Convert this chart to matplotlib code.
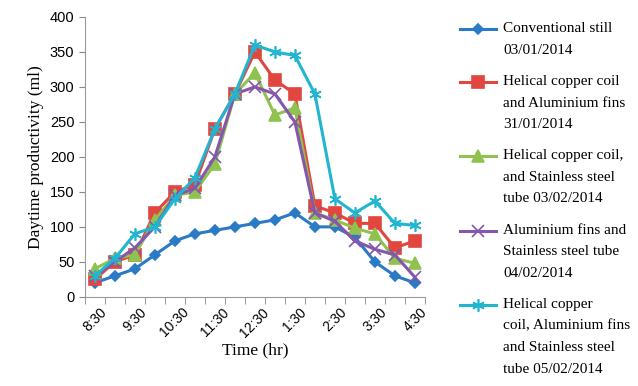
import numpy as np
import matplotlib
matplotlib.use('Agg')
import matplotlib.pyplot as plt
from matplotlib.legend_handler import HandlerLine2D

# Data (ml), every half hour from 8:30 to 4:30
times = ['8:30', '9:00', '9:30', '10:00', '10:30', '11:00', '11:30', '12:00', '12:30',
         '1:00', '1:30', '2:00', '2:30', '3:00', '3:30', '4:00', '4:30']
conventional = [20, 30, 40, 60, 80, 90, 95, 100, 105, 110, 120, 100, 100, 85, 50, 30, 20]
coil_fins = [25, 50, 60, 120, 150, 160, 240, 290, 350, 310, 290, 130, 120, 105, 105, 70, 80]
coil_tube = [40, 55, 60, 110, 145, 150, 190, 290, 320, 260, 270, 120, 110, 98, 90, 55, 48]
fins_tube = [30, 50, 70, 100, 145, 155, 200, 290, 300, 290, 250, 120, 108, 80, 68, 60, 28]
coil_fins_tube = [30, 55, 90, 100, 140, 170, 240, 290, 360, 350, 345, 290, 140, 120, 137, 105, 102]

labels = ['Conventional still\n03/01/2014',
          'Helical copper coil\nand Aluminium fins\n31/01/2014',
          'Helical copper coil,\nand Stainless steel\ntube 03/02/2014',
          'Aluminium fins and\nStainless steel tube\n04/02/2014',
          'Helical copper\ncoil, Aluminium fins\nand Stainless steel\ntube 05/02/2014']

series = [conventional, coil_fins, coil_tube, fins_tube, coil_fins_tube]
colors = ['#2a7ac6', '#e2473f', '#8fc24f', '#8457ad', '#22b5d0']
markers = ['D', 's', '^', 'x', (6, 2, 0)]
msizes = [5.5, 8, 8, 8, 9]

LINE_PITCH = 15.0  # points between legend text lines


class TopHandler(HandlerLine2D):
    # put the legend sample next to the first line of a multi-line label
    def __init__(self, nlines, **kw):
        super().__init__(**kw)
        self.shift = (nlines - 1) / 2 * LINE_PITCH

    def create_artists(self, legend, orig_handle, xdescent, ydescent,
                       width, height, fontsize, trans):
        arts = super().create_artists(legend, orig_handle, xdescent, ydescent,
                                      width, height, fontsize, trans)
        for a in arts:
            a.set_ydata(np.asarray(a.get_ydata()) + self.shift)
        return arts


fig = plt.figure(figsize=(6.38, 3.86), dpi=100)
ax = fig.add_axes([0.133, 0.231, 0.533, 0.725])

x = np.arange(len(times))
handles = []
for y, c, m, ms, lab in zip(series, colors, markers, msizes, labels):
    h, = ax.plot(x, y, color=c, marker=m, markersize=ms, lw=2.2,
                 markeredgewidth=1.2, label=lab)
    handles.append(h)

ax.set_xlim(-0.5, len(times) - 0.5)
ax.set_ylim(0, 400)
ax.set_yticks(range(0, 401, 50))
ax.set_xticks(x[::2])
ax.set_xticklabels(times[::2], rotation=45, fontsize=10, family='Liberation Sans')
ax.set_xticks(np.arange(-0.5, len(times), 1), minor=True)
ax.tick_params(axis='x', which='major', length=0, pad=6)
ax.tick_params(axis='x', which='minor', length=5, color='#888888', direction='out')
ax.tick_params(axis='y', length=4, color='#888888', labelsize=10.5)
for t in ax.get_yticklabels():
    t.set_family('Liberation Sans')

for s in ['top', 'right']:
    ax.spines[s].set_visible(False)
for s in ['left', 'bottom']:
    ax.spines[s].set_color('#999999')

ax.set_ylabel('Daytime productivity (ml)', family='Liberation Serif', fontsize=12.5)
ax.set_xlabel('Time (hr)', family='Liberation Serif', fontsize=12.5, labelpad=2)

hmap = {h: TopHandler(lab.count('\n') + 1) for h, lab in zip(handles, labels)}
leg = fig.legend(handles=handles, loc='upper left', bbox_to_anchor=(0.712, 0.958),
                 frameon=False, prop={'family': 'Liberation Serif', 'size': 11},
                 handlelength=2.3, labelspacing=1.2, handletextpad=0.5,
                 borderaxespad=0, handler_map=hmap)
for t in leg.get_texts():
    t.set_linespacing(1.85)

fig.savefig('out.png', dpi=100)
